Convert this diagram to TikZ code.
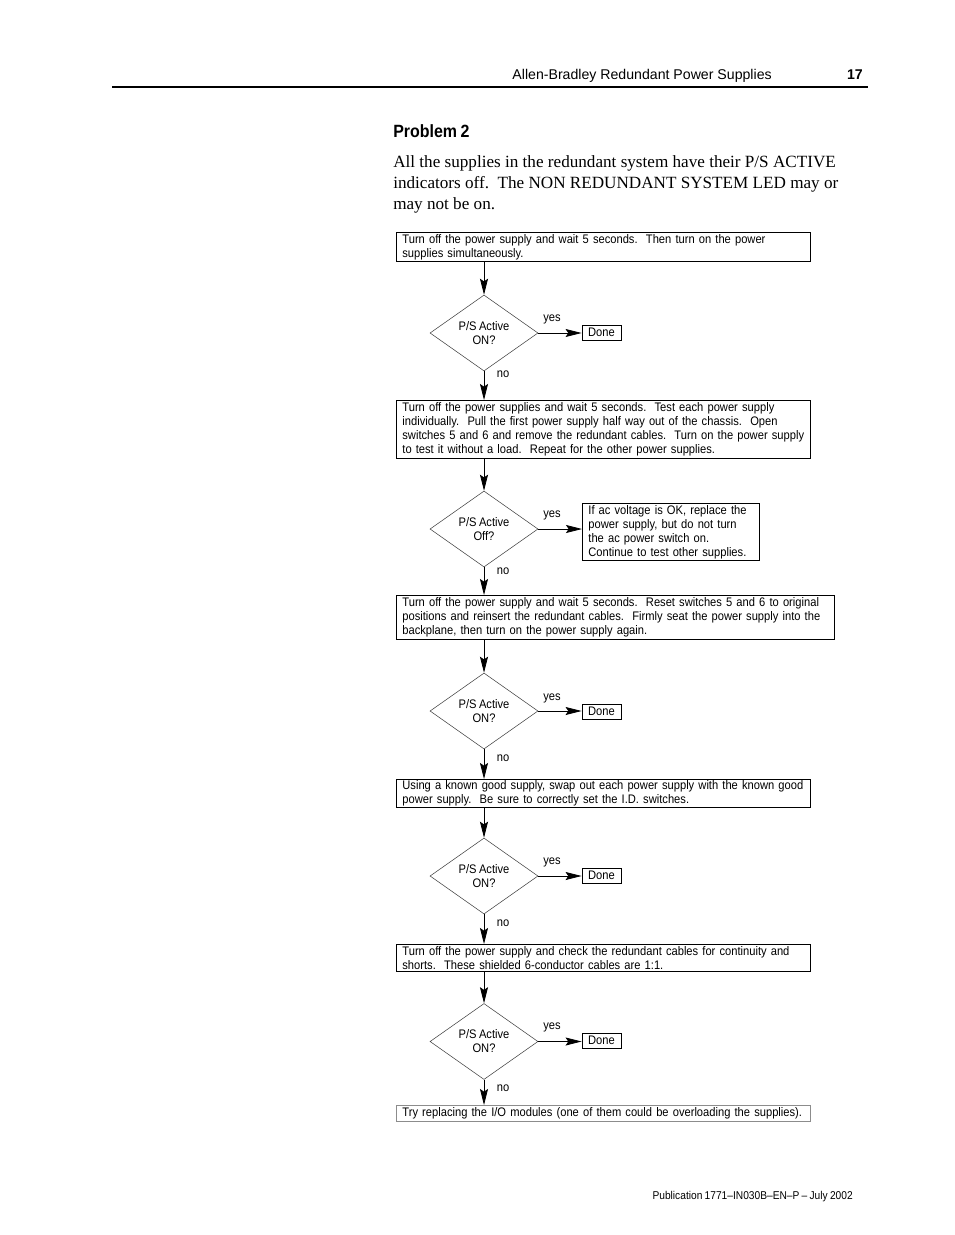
\documentclass[tikz,border=0pt]{standalone}
\usepackage{fontspec}
\setmainfont{Liberation Serif}
\newfontfamily\hdrfont{Liberation Sans}
\newfontfamily\condfont{Liberation Sans}[FakeStretch=0.9, WordSpace=0.8, Ligatures=TeX]
\usetikzlibrary{shapes.geometric,arrows.meta}
\newcommand\boxfont{\condfont\fontsize{9.3}{10.5}\selectfont}

\tikzset{
  stepbox/.style={draw, line width=0.6pt, anchor=north west, align=left, font=\boxfont,
    inner xsep=4.5pt, inner ysep=1pt, text width=301.5pt},
  query/.style={draw=black!75, line width=0.4pt, diamond, aspect=1.4, inner sep=0pt,
    minimum width=81pt, minimum height=57pt, align=center, font=\boxfont},
  done/.style={draw, line width=0.6pt, minimum width=29.25pt, minimum height=11.25pt,
    inner sep=0pt, font=\boxfont},
  lbl/.style={font=\boxfont, inner sep=0pt},
  arr/.style={line width=0.6pt, -{Stealth[length=12pt, width=6pt, inset=2pt]}}
}

\begin{document}
\begin{tikzpicture}[x=0.75pt, y=-0.75pt]
\useasboundingbox (0,0) rectangle (954,1235);

% page head
\node[anchor=base east, font=\hdrfont\fontsize{10.6}{12}\selectfont, inner sep=0pt] (head) at (772,79) {Allen-Bradley Redundant Power Supplies};
\node[anchor=base east, font=\hdrfont\bfseries\fontsize{10.6}{12}\selectfont, inner sep=0pt] (page) at (863,79) {17};
\draw[line width=1.5pt] (112,87) -- (868,87);

\node[anchor=base west, font=\condfont\bfseries\fontsize{13.3}{15}\selectfont, inner sep=0pt] (title) at (393,137) {Problem 2};
\node[anchor=north west, align=left, font=\fontsize{12.85}{15.75}\selectfont, inner sep=0pt] (intro) at (393,155)
  {All the supplies in the redundant system have their P/S ACTIVE\\
   indicators off.\ \ The NON REDUNDANT SYSTEM LED may or\\
   may not be on.};

% steps
\node[stepbox, minimum height=21.75pt] (b1) at (396,232)
  {Turn off the power supply and wait 5 seconds.\ \ Then turn on the power\\ supplies simultaneously.};
\node[stepbox, minimum height=43.5pt] (b2) at (396,400)
  {Turn off the power supplies and wait 5 seconds.\ \ Test each power supply\\
   individually.\ \ Pull the first power supply half way out of the chassis.\ \ Open\\
   switches 5 and 6 and remove the redundant cables.\ \ Turn on the power supply\\
   to test it without a load.\ \ Repeat for the other power supplies.};
\node[stepbox, minimum height=33pt, text width=319.5pt] (b3) at (396,595)
  {Turn off the power supply and wait 5 seconds.\ \ Reset switches 5 and 6 to original\\
   positions and reinsert the redundant cables.\ \ Firmly seat the power supply into the\\
   backplane, then turn on the power supply again.};
\node[stepbox, minimum height=21pt] (b4) at (396,779)
  {Using a known good supply, swap out each power supply with the known good\\
   power supply.\ \ Be sure to correctly set the I.D. switches.};
\node[stepbox, minimum height=20.25pt] (b5) at (396,944)
  {Turn off the power supply and check the redundant cables for continuity and\\
   shorts.\ \ These shielded 6-conductor cables are 1:1.};
\node[stepbox, draw=black!45, minimum height=12pt] (b6) at (396,1105)
  {Try replacing the I/O modules (one of them could be overloading the supplies).};

% questions
\node[query] (d1) at (484,333) {P/S Active\\ON?};
\node[query] (d2) at (484,529) {P/S Active\\Off?};
\node[query] (d3) at (484,711) {P/S Active\\ON?};
\node[query] (d4) at (484,876) {P/S Active\\ON?};
\node[query] (d5) at (484,1041.5) {P/S Active\\ON?};

% answers
\node[done] (y1) at (601.5,332.5) {Done};
\node[stepbox, text width=123.75pt, minimum height=42.75pt] (y2) at (582,503)
  {If ac voltage is OK, replace the\\ power supply, but do not turn\\
   the ac power switch on.\\ Continue to test other supplies.};
\node[done] (y3) at (601.5,711.5) {Done};
\node[done] (y4) at (601.5,875.5) {Done};
\node[done] (y5) at (601.5,1040.5) {Done};

\foreach \y in {319,515,698,862,1027}
  \node[lbl] at (552,\y) {yes};
\foreach \y in {374,571,758,923,1088}
  \node[lbl] at (503,\y) {no};

% flow
\draw[arr] (b1.south -| d1) -- (d1.north);
\draw[arr] (d1.south) -- (b2.north -| d1);
\draw[arr] (b2.south -| d2) -- (d2.north);
\draw[arr] (d2.south) -- (b3.north -| d2);
\draw[arr] (b3.south -| d3) -- (d3.north);
\draw[arr] (d3.south) -- (b4.north -| d3);
\draw[arr] (b4.south -| d4) -- (d4.north);
\draw[arr] (d4.south) -- (b5.north -| d4);
\draw[arr] (b5.south -| d5) -- (d5.north);
\draw[arr] (d5.south) -- (b6.north -| d5);
\foreach \n in {1,...,5}
  \draw[arr] (d\n.east) -- (d\n.east -| y\n.west);

% page foot
\node[anchor=base east, font=\condfont\fontsize{8.5}{10}\selectfont, inner sep=0pt] (foot) at (853,1199)
  {Publication 1771–IN030B–EN–P – July 2002};
\end{tikzpicture}
\end{document}
